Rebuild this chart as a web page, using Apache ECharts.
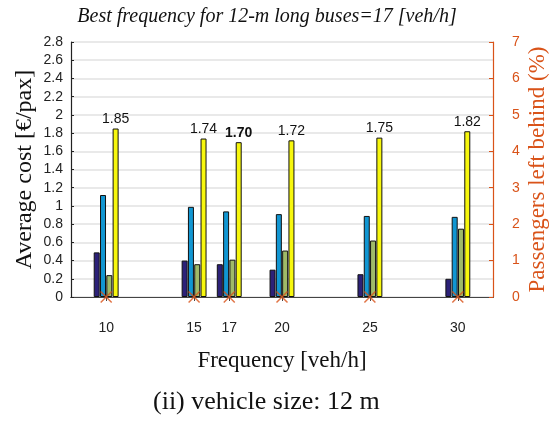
<!DOCTYPE html>
<html><head><meta charset="utf-8">
<script src="https://cdn.jsdelivr.net/npm/echarts@6/dist/echarts.min.js"></script>
<style>html,body{margin:0;padding:0;background:#fff}#c{width:552px;height:423px}</style>
</head><body><div id="c"></div>
<script>
const frequencies = [10, 15, 17, 20, 25, 30];
const costA = [0.49, 0.40, 0.36, 0.30, 0.25, 0.20];
const costB = [1.12, 0.99, 0.94, 0.91, 0.89, 0.88];
const costC = [0.24, 0.36, 0.41, 0.51, 0.62, 0.75];
const totalCost = [1.85, 1.74, 1.70, 1.72, 1.75, 1.82];
const leftBehind = [0, 0, 0, 0, 0, 0];
const bestFrequency = 17;

const pair = arr => arr.map((v, i) => [frequencies[i], v]);
const serif = 'Liberation Serif';
const sans = 'Liberation Sans';
const orange = '#d95319';
const barBase = { type: 'bar', barWidth: 6, barGap: '5%', xAxisIndex: 0, yAxisIndex: 0,
  itemStyle: { borderColor: '#111', borderWidth: 1 }, emphasis: { disabled: true } };

const chart = echarts.init(document.getElementById('c'));
chart.setOption({
  animation: false,
  title: { text: 'Best frequency for 12-m long buses=17 [veh/h]', left: 262, top: 2, textAlign: 'center',
    textStyle: { fontFamily: serif, fontStyle: 'italic', fontWeight: 'normal', fontSize: 20, color: '#111' } },
  graphic: [{ type: 'text', left: 153, top: 389, style: { text: '(ii) vehicle size: 12 m',
    font: '26px "Liberation Serif"', fill: '#111' } }],
  grid: { left: 71, right: 59, top: 42, bottom: 126, outerBoundsMode: 'none', containLabel: false },
  xAxis: [{
    type: 'value', min: 8, max: 32, position: 'bottom',
    name: 'Frequency [veh/h]', nameLocation: 'middle', nameGap: 52, nameMoveOverlap: false,
    nameTextStyle: { fontFamily: serif, fontSize: 23, color: '#111' },
    axisLine: { lineStyle: { color: '#222', width: 1.2 } },
    axisTick: { show: false },
    axisLabel: { customValues: frequencies, margin: 24, fontFamily: sans, fontSize: 14, color: '#222' },
    splitLine: { show: false }
  }, {
    type: 'value', min: 8, max: 32, position: 'top',
    axisLine: { show: true, lineStyle: { color: '#444', width: 1.2 } },
    axisTick: { show: true, inside: true, length: 4, customValues: frequencies, lineStyle: { color: '#444' } },
    axisLabel: { show: false }, splitLine: { show: false }
  }],
  yAxis: [{
    type: 'value', min: 0, max: 2.8, interval: 0.2, position: 'left',
    name: 'Average cost [€/pax]', nameLocation: 'middle', nameGap: 34, nameMoveOverlap: false,
    nameTextStyle: { fontFamily: serif, fontSize: 24, color: '#111' },
    axisLine: { show: true, lineStyle: { color: '#222', width: 1.2 } },
    axisTick: { show: true, inside: true, length: 3, lineStyle: { color: '#222' } },
    axisLabel: { margin: 8, fontFamily: sans, fontSize: 14, color: '#222',
      formatter: v => String(Math.round(v * 10) / 10) },
    splitLine: { show: true, lineStyle: { color: '#e2e2e2', width: 1.5 } }
  }, {
    type: 'value', min: 0, max: 7, interval: 1, position: 'right',
    name: 'Passengers left behind (%)', nameLocation: 'middle', nameGap: 33, nameRotate: 90, nameMoveOverlap: false,
    nameTextStyle: { fontFamily: serif, fontSize: 23, color: orange },
    axisLine: { show: true, lineStyle: { color: orange, width: 1.2 } },
    axisTick: { show: true, inside: true, length: 4, lineStyle: { color: orange } },
    axisLabel: { margin: 19, fontFamily: sans, fontSize: 14, color: orange },
    splitLine: { show: false }
  }],
  series: [
    Object.assign({}, barBase, { name: 'a', data: pair(costA), itemStyle: Object.assign({}, barBase.itemStyle, { color: '#2c2178' }) }),
    Object.assign({}, barBase, { name: 'b', data: pair(costB), itemStyle: Object.assign({}, barBase.itemStyle, { color: '#1196d2' }) }),
    Object.assign({}, barBase, { name: 'c', data: pair(costC), itemStyle: Object.assign({}, barBase.itemStyle, { color: '#9fba68' }) }),
    Object.assign({}, barBase, { name: 'total',
      data: totalCost.map((v, i) => ({ value: [frequencies[i], v],
        label: frequencies[i] === bestFrequency ? { fontWeight: 'bold' } : {} })),
      itemStyle: Object.assign({}, barBase.itemStyle, { color: '#f7f70d' }),
      label: { show: true, position: 'top', distance: 2, fontFamily: sans, fontSize: 14, color: '#111',
        formatter: p => p.value[1].toFixed(2) } }),
    { type: 'scatter', name: 'left', xAxisIndex: 0, yAxisIndex: 1, data: pair(leftBehind),
      symbol: 'path://M0,0L10,10M10,0L0,10', symbolSize: 11, z: 5,
      itemStyle: { color: 'rgba(0,0,0,0)', borderColor: orange, borderWidth: 1.5 }, emphasis: { disabled: true } }
  ]
});
</script></body></html>
